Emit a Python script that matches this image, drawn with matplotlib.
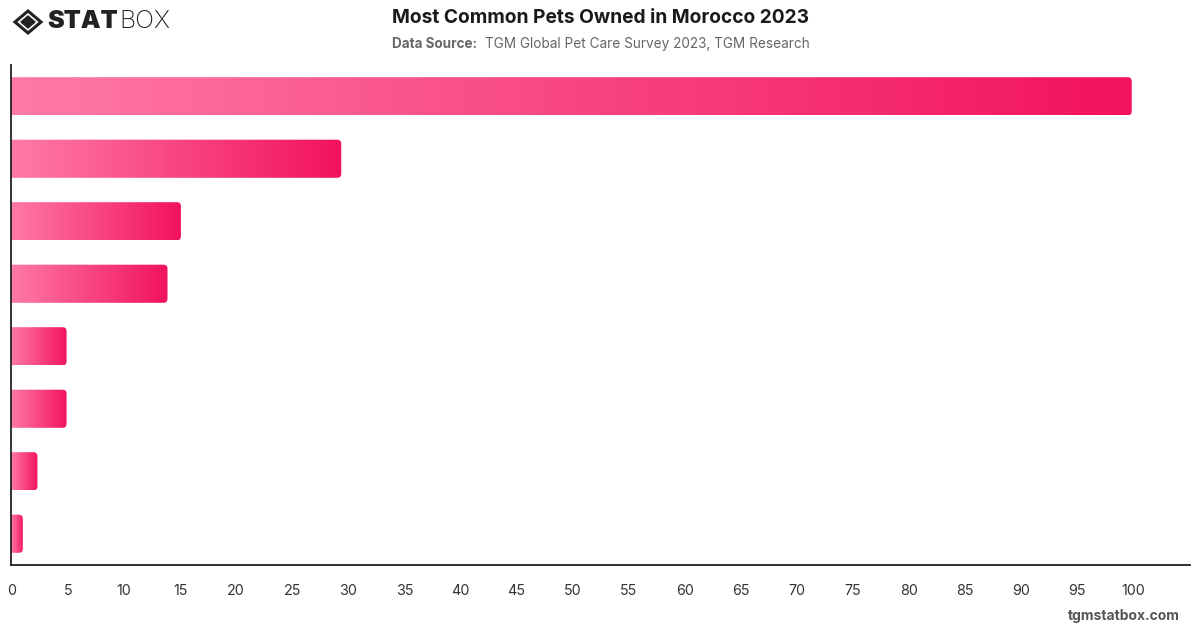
import numpy as np
import matplotlib.pyplot as plt
import matplotlib.transforms as mtransforms
from matplotlib.patches import FancyBboxPatch, Polygon
from matplotlib.colors import LinearSegmentedColormap

# values (categories are unlabeled in the reference)
pets = ['Pet 1', 'Pet 2', 'Pet 3', 'Pet 4', 'Pet 5', 'Pet 6', 'Pet 7', 'Pet 8']
shares = [100, 29.5, 15.2, 14.0, 5.0, 5.0, 2.4, 1.1]
x_ticks = list(range(0, 101, 5))

plt.rcParams['font.family'] = ['Inter', 'DejaVu Sans']

fig = plt.figure(figsize=(12, 6.28), dpi=100)
ax = fig.add_axes([10.5 / 1200, 63 / 628, 1179.5 / 1200, 500 / 628])

grad = LinearSegmentedColormap.from_list('pink', ['#ff7aa6', '#f2125f'])
bar_h = 0.61
x_max = 105.2
ax.set_xlim(0, x_max)
ax.set_ylim(len(pets) - 0.5, -0.5)

# convert a ~4px corner radius into data units
px_x = 1179.5 / x_max
px_y = 500 / len(pets)
r = 4 / px_x
aspect = (4 / px_y) / r

for i, v in enumerate(shares):
    y0 = i - bar_h / 2
    patch = FancyBboxPatch((-1, y0), v + 1, bar_h,
                           boxstyle=f'round,pad=0,rounding_size={r}',
                           mutation_aspect=aspect, facecolor='none',
                           edgecolor='none')
    ax.add_patch(patch)
    img = ax.imshow(np.linspace(0, 1, 256).reshape(1, -1), cmap=grad,
                    extent=[0, v, y0 + bar_h, y0], aspect='auto',
                    interpolation='bicubic')
    img.set_clip_path(patch)

ax.set_xlim(0, x_max)
ax.set_ylim(len(pets) - 0.5, -0.5)
ax.set_xticks(x_ticks)
ax.set_xticklabels([str(t) for t in x_ticks], fontsize=10.3, color='#333333')
ax.tick_params(axis='x', length=0, pad=14)
shift = mtransforms.ScaledTranslation(1.5 / 100, 0, fig.dpi_scale_trans)
for lbl in ax.get_xticklabels():
    lbl.set_transform(lbl.get_transform() + shift)
ax.set_yticks([])
for s in ['top', 'right']:
    ax.spines[s].set_visible(False)
for s in ['left', 'bottom']:
    ax.spines[s].set_color('#222222')
    ax.spines[s].set_linewidth(1.3)

# header
fig.text(0.5, 1 - 18 / 628, 'Most Common Pets Owned in Morocco 2023',
         ha='center', va='center', fontsize=13.8, fontweight='bold', color='#1a1a1a')
fig.text(392 / 1200, 1 - 44 / 628, 'Data Source:', ha='left', va='center',
         fontsize=9.7, fontweight='bold', color='#666666')
fig.text(485 / 1200, 1 - 44 / 628, 'TGM Global Pet Care Survey 2023, TGM Research',
         ha='left', va='center', fontsize=9.8, color='#666666')

# logo
cx, cy = 28, 22
outer = [(cx - 13, cy), (cx, cy - 11), (cx + 13, cy), (cx, cy + 11)]
inner = [(cx - 7, cy), (cx, cy - 6), (cx + 7, cy), (cx, cy + 6)]
fig.patches.append(Polygon([(x / 1200, 1 - y / 628) for x, y in outer],
                           closed=True, facecolor='none', edgecolor='#222222',
                           linewidth=2.2, transform=fig.transFigure))
fig.patches.append(Polygon([(x / 1200, 1 - y / 628) for x, y in inner],
                           closed=True, facecolor='#222222', edgecolor='#222222',
                           transform=fig.transFigure))
fig.text(47 / 1200, 1 - 22 / 628, 'STAT', ha='left', va='center', fontsize=18,
         fontweight='black', color='#222222')
fig.text(119 / 1200, 1 - 22 / 628, 'BOX', ha='left', va='center', fontsize=18,
         fontweight='light', color='#222222')

fig.text(1180 / 1200, 1 - 616 / 628, 'tgmstatbox.com', ha='right', va='center',
         fontsize=10, fontweight='bold', color='#555555')

fig.savefig('out.png', dpi=100, facecolor='white')
